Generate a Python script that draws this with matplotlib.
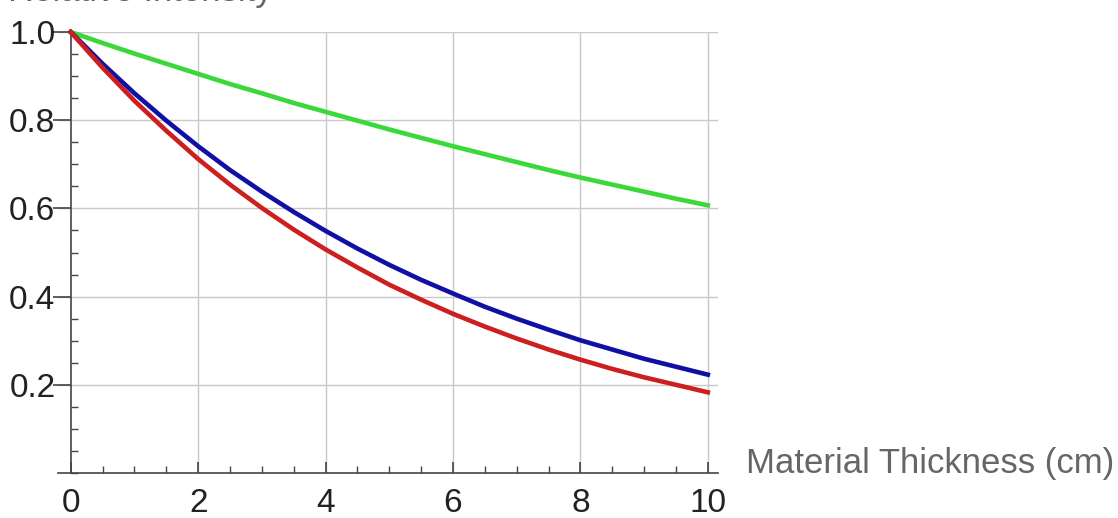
import numpy as np
import matplotlib
matplotlib.use("Agg")
import matplotlib.pyplot as plt
from matplotlib.ticker import MultipleLocator

# thickness in cm, every 0.5 cm
thickness = [0.0, 0.5, 1.0, 1.5, 2.0, 2.5, 3.0, 3.5, 4.0, 4.5, 5.0,
             5.5, 6.0, 6.5, 7.0, 7.5, 8.0, 8.5, 9.0, 9.5, 10.0]
green_vals = [1.0, 0.975, 0.951, 0.928, 0.905, 0.882, 0.861, 0.839, 0.819, 0.799, 0.779,
              0.760, 0.741, 0.723, 0.705, 0.687, 0.670, 0.654, 0.638, 0.622, 0.607]
blue_vals = [1.0, 0.928, 0.861, 0.799, 0.741, 0.687, 0.638, 0.592, 0.549, 0.509, 0.472,
             0.438, 0.407, 0.377, 0.350, 0.325, 0.301, 0.280, 0.259, 0.241, 0.223]
red_vals = [1.0, 0.919, 0.844, 0.776, 0.712, 0.654, 0.601, 0.552, 0.507, 0.466, 0.427,
            0.393, 0.361, 0.332, 0.305, 0.280, 0.257, 0.236, 0.217, 0.200, 0.183]

x_ticks = [0, 2, 4, 6, 8, 10]
y_ticks = [0.2, 0.4, 0.6, 0.8, 1.0]
x_label = "Material Thickness (cm)"
y_label = "Relative Intensity"

plt.rcParams['font.family'] = ['Liberation Sans', 'DejaVu Sans']

fig = plt.figure(figsize=(11.18, 5.18), dpi=100)
ax = fig.add_axes([58 / 1118, 45 / 518, 660 / 1118, 441 / 518])
ax.set_xlim(-0.2, 10.16)
ax.set_ylim(0, 1.0)

# grid
for gx in x_ticks[1:]:
    ax.axvline(gx, color="#c8c8c8", lw=1.0, zorder=0)
for gy in y_ticks:
    ax.axhline(gy, color="#c8c8c8", lw=1.0, zorder=0)

ax.plot(thickness, green_vals, color="#3ad838", lw=3.3, clip_on=False, zorder=3)
ax.plot(thickness, blue_vals, color="#1010a4", lw=3.3, clip_on=False, zorder=3)
ax.plot(thickness, red_vals, color="#cc1f1f", lw=3.3, clip_on=False, zorder=3)

for s in ["top", "right"]:
    ax.spines[s].set_visible(False)
ax.spines["left"].set_position(("data", 0))
ax.spines["left"].set_bounds(0, 1.0)
for s in ["left", "bottom"]:
    ax.spines[s].set_color("#444444")
    ax.spines[s].set_linewidth(1.2)

ax.set_xticks(x_ticks)
ax.set_xticklabels([str(v) for v in x_ticks])
ax.set_yticks(y_ticks)
ax.set_yticklabels([f"{v:.1f}" for v in y_ticks])
ax.xaxis.set_minor_locator(MultipleLocator(0.5))
ax.yaxis.set_minor_locator(MultipleLocator(0.05))

ax.tick_params(axis="x", which="major", direction="in", length=8, width=1.2,
               color="#444444", labelsize=24, labelcolor="#222222", pad=11)
ax.tick_params(axis="x", which="minor", direction="in", length=5, width=1.0, color="#444444")
ax.tick_params(axis="y", which="major", direction="out", length=13, width=1.2,
               color="#444444", labelsize=24, labelcolor="#222222", pad=-2)
ax.tick_params(axis="y", which="minor", direction="in", length=5, width=1.0, color="#444444")

fig.text(746 / 1118, 1 - 464 / 518, x_label, ha="left", va="center",
         fontsize=25, color="#666666")
# axis title at the top, cut off by the frame edge as in the source image
fig.text(8 / 1118, 1 - 1 / 518, y_label, ha="left", va="baseline",
         fontsize=25, color="#666666")

fig.savefig("out.png", dpi=100)
